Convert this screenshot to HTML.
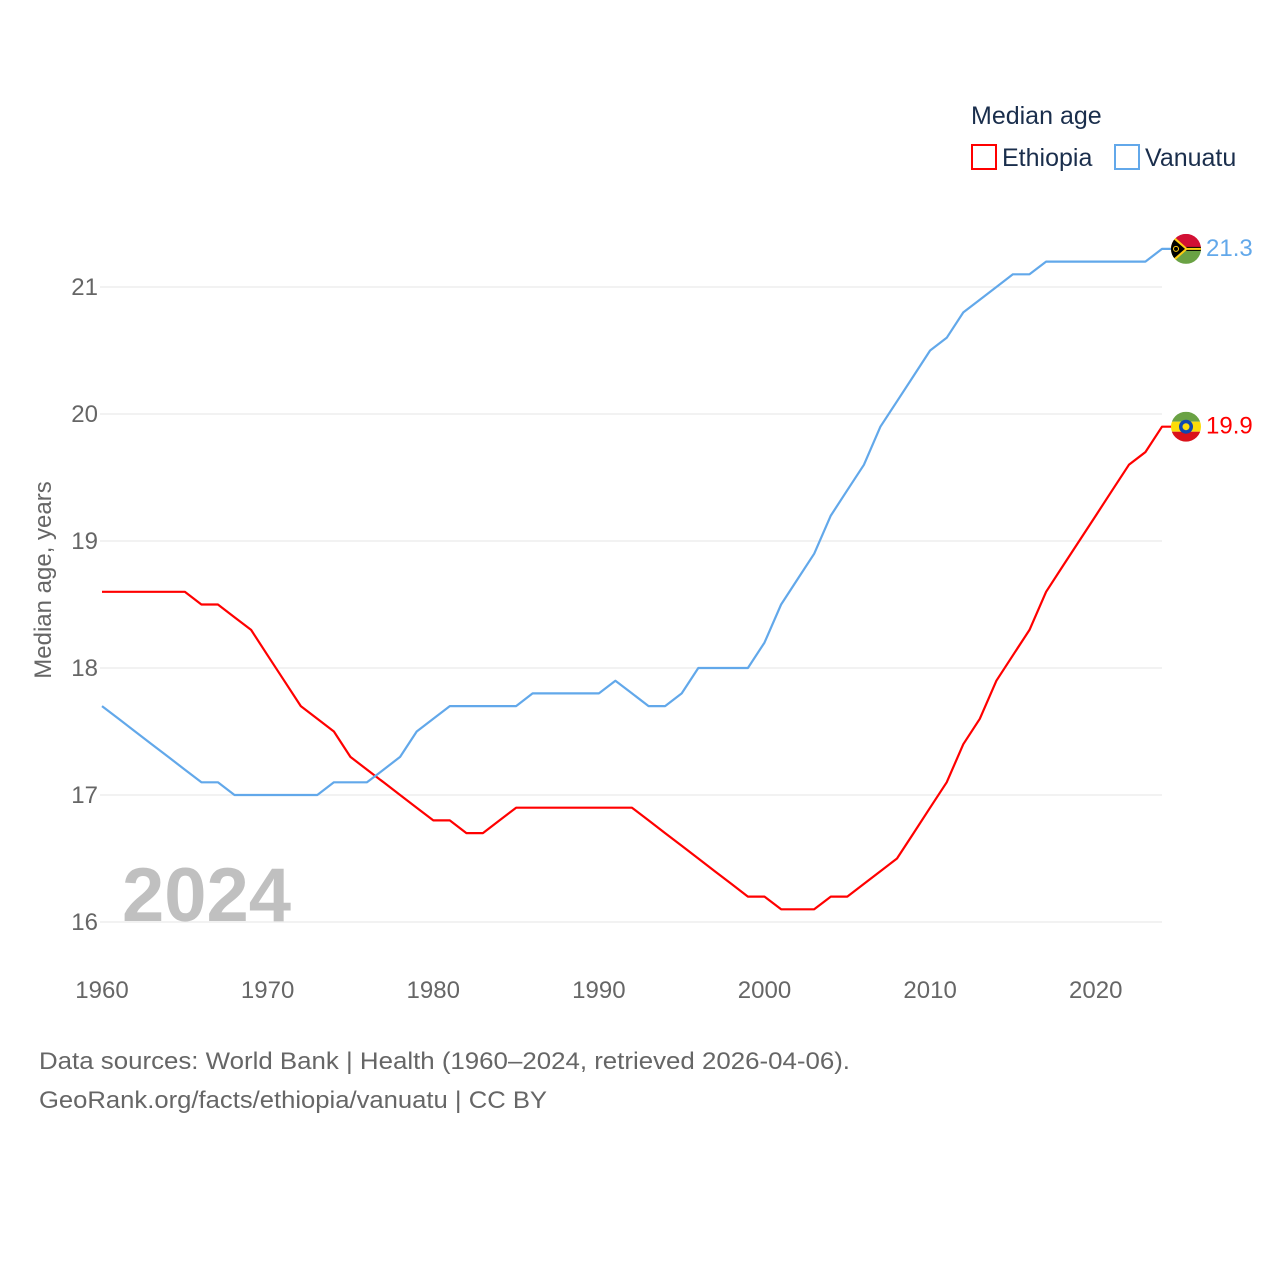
<!DOCTYPE html>
<html><head><meta charset="utf-8"><style>
body{margin:0;background:#fff;}
svg{display:block;font-family:"Liberation Sans",sans-serif;}
</style></head><body>
<svg id="chart" width="1280" height="1280" viewBox="0 0 1280 1280">
<g id="grid"></g>
<g id="yticks"></g>
<g id="xticks"></g>
<text x="122" y="921" font-size="76" font-weight="bold" fill="#c0c0c0">2024</text>
<text transform="translate(51,580) rotate(-90)" text-anchor="middle" font-size="24" fill="#666">Median age, years</text>
<g id="series"></g>
<g>
<text x="971" y="124" font-size="25" fill="#1a2e4c">Median age</text>
<rect x="972" y="145" width="24" height="24" fill="none" stroke="#ff0000" stroke-width="2"/>
<text x="1002" y="166" font-size="25" fill="#1a2e4c">Ethiopia</text>
<rect x="1115" y="145" width="24" height="24" fill="none" stroke="#62a8ea" stroke-width="2"/>
<text x="1145" y="166" font-size="25" fill="#1a2e4c">Vanuatu</text>
</g>
<g font-size="24" fill="#666">
<text x="39" y="1069" textLength="811" lengthAdjust="spacingAndGlyphs">Data sources: World Bank | Health (1960–2024, retrieved 2026-04-06).</text>
<text x="39" y="1108" textLength="508" lengthAdjust="spacingAndGlyphs">GeoRank.org/facts/ethiopia/vanuatu | CC BY</text>
</g>
</svg>
<script>
const years = [];
for (let y = 1960; y <= 2024; y++) years.push(y);
const ethiopia = [18.6,18.6,18.6,18.6,18.6,18.6,18.5,18.5,18.4,18.3,18.1,17.9,17.7,17.6,17.5,17.3,17.2,17.1,17.0,16.9,16.8,16.8,16.7,16.7,16.8,16.9,16.9,16.9,16.9,16.9,16.9,16.9,16.9,16.8,16.7,16.6,16.5,16.4,16.3,16.2,16.2,16.1,16.1,16.1,16.2,16.2,16.3,16.4,16.5,16.7,16.9,17.1,17.4,17.6,17.9,18.1,18.3,18.6,18.8,19.0,19.2,19.4,19.6,19.7,19.9];
const vanuatu = [17.7,17.6,17.5,17.4,17.3,17.2,17.1,17.1,17.0,17.0,17.0,17.0,17.0,17.0,17.1,17.1,17.1,17.2,17.3,17.5,17.6,17.7,17.7,17.7,17.7,17.7,17.8,17.8,17.8,17.8,17.8,17.9,17.8,17.7,17.7,17.8,18.0,18.0,18.0,18.0,18.2,18.5,18.7,18.9,19.2,19.4,19.6,19.9,20.1,20.3,20.5,20.6,20.8,20.9,21.0,21.1,21.1,21.2,21.2,21.2,21.2,21.2,21.2,21.2,21.3];
const yTicks = [16,17,18,19,20,21];
const xTicks = [1960,1970,1980,1990,2000,2010,2020];

const NS = 'http://www.w3.org/2000/svg';
const X = y => 102 + (y - 1960) * (1162 - 102) / 64;
const Y = v => 922 - (v - 16) * 127;
function mk(tag, attrs, parent) { const e = document.createElementNS(NS, tag); for (const k in attrs) e.setAttribute(k, attrs[k]); parent.appendChild(e); return e; }

const grid = document.getElementById('grid'), yt = document.getElementById('yticks'), xt = document.getElementById('xticks');
yTicks.forEach(t => {
  const l = mk('line', {x1: 100, x2: 1162, y1: Y(t), y2: Y(t), stroke: '#e4e4e4', 'stroke-width': 1}, grid);
  
  
  const tx = mk('text', {x: 98, y: Y(t) + 8, 'text-anchor': 'end', 'font-size': 24, fill: '#666'}, yt);
  tx.textContent = t;
  
  
});
xTicks.forEach(t => {
  const tx = mk('text', {x: X(t), y: 998, 'text-anchor': 'middle', 'font-size': 24, fill: '#666'}, xt);
  tx.textContent = t;
  
  
});

const series = document.getElementById('series');
function drawSeries(vals, color, name) {
  const pts = vals.map((v, i) => X(years[i]).toFixed(1) + ',' + Y(v).toFixed(1));
  const last = vals[vals.length - 1];
  pts.push('1175,' + Y(last).toFixed(1));
  const p = mk('polyline', {points: pts.join(' '), fill: 'none', stroke: color, 'stroke-width': 2.2, 'stroke-linejoin': 'round'}, series);
  
  
  const lab = mk('text', {x: 1206, y: Y(last) + 7, 'font-size': 24, fill: color}, series);
  lab.textContent = last.toFixed(1);
  
  
  return Y(last);
}
const yE = drawSeries(ethiopia, '#ff0000', 'ethiopia');
const yV = drawSeries(vanuatu, '#62a8ea', 'vanuatu');

function flag(cy, name, parts) {
  const g = mk('g', {}, series);
  
  
  const id = 'clip-' + name;
  const cp = mk('clipPath', {id: id}, g);
  mk('circle', {cx: 1186, cy: cy, r: 15}, cp);
  const inner = mk('g', {'clip-path': 'url(#' + id + ')'}, g);
  parts(inner, cy);
}
flag(yV, 'vanuatu', (g, cy) => {
  mk('rect', {x: 1171, y: cy - 15, width: 30, height: 15, fill: '#d21034'}, g);
  mk('rect', {x: 1171, y: cy, width: 30, height: 15, fill: '#6aa244'}, g);
  mk('rect', {x: 1171, y: cy - 2, width: 30, height: 4, fill: '#000'}, g);
  mk('rect', {x: 1171, y: cy - 1, width: 30, height: 2, fill: '#fdce12'}, g);
  mk('polygon', {points: `1171,${cy-15} 1188,${cy} 1171,${cy+15}`, fill: '#fdce12'}, g);
  mk('polygon', {points: `1171,${cy-12} 1185,${cy} 1171,${cy+12}`, fill: '#000'}, g);
  mk('circle', {cx: 1176, cy: cy, r: 2.5, fill: 'none', stroke: '#fdce12', 'stroke-width': 1}, g);
});
flag(yE, 'ethiopia', (g, cy) => {
  mk('rect', {x: 1171, y: cy - 15, width: 30, height: 10, fill: '#6aa244'}, g);
  mk('rect', {x: 1171, y: cy - 5, width: 30, height: 10, fill: '#fcdd09'}, g);
  mk('rect', {x: 1171, y: cy + 5, width: 30, height: 10, fill: '#da121a'}, g);
  mk('circle', {cx: 1186, cy: cy, r: 7, fill: '#0f47af'}, g);
  mk('circle', {cx: 1186, cy: cy, r: 3.5, fill: '#fcdd09'}, g);
});
</script>
</body></html>
